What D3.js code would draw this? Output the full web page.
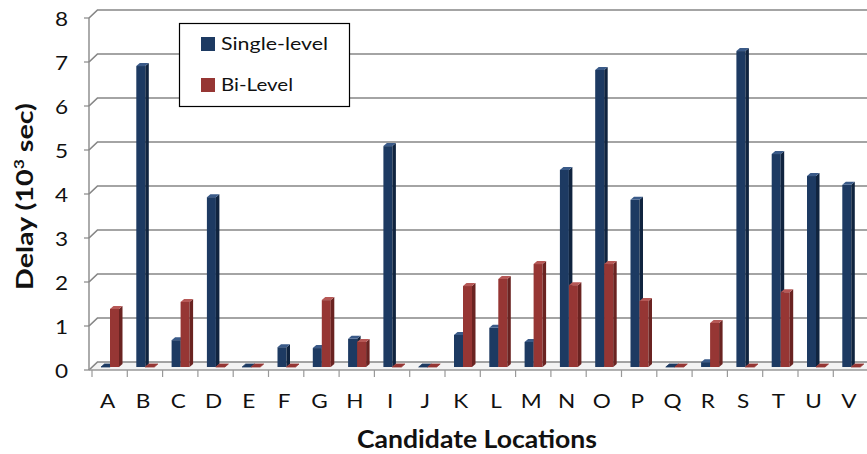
<!DOCTYPE html>
<html>
<head>
<meta charset="utf-8">
<script src="https://cdn.jsdelivr.net/npm/d3@7"></script>
<style>
  html, body { margin: 0; padding: 0; background: #fff; }
  svg { display: block; font-family: Lato, "Open Sans", "DejaVu Sans", sans-serif; }
</style>
</head>
<body>
<svg id="chart" width="867" height="454"></svg>
<script>
// Candidate locations and delay per location (in 10^3 sec)
const categories = ["A","B","C","D","E","F","G","H","I","J","K","L","M","N","O","P","Q","R","S","T","U","V"];
const singleLevel = [0, 6.84, 0.61, 3.86, 0, 0.45, 0.43, 0.64, 5.02, 0, 0.73, 0.89, 0.57, 4.48, 6.75, 3.8, 0, 0.11, 7.18, 4.84, 4.34, 4.14];
const biLevel     = [1.32, 0, 1.48, 0, 0, 0, 1.52, 0.57, 0, 0, 1.84, 2.0, 2.34, 1.86, 2.34, 1.5, 0, 1.0, 0, 1.70, 0, 0];
const yTicks = [0, 1, 2, 3, 4, 5, 6, 7, 8];
const seriesNames = ["Single-level", "Bi-Level"];

const svg = d3.select("#chart");

// Front plane scales
const x = d3.scaleBand().domain(categories).range([92, 92 + 35.3 * categories.length]);
const y = d3.scaleLinear().domain([0, 8]).range([370, 18]);

// Oblique offsets for the 3D look
const wallDx = 8.5, wallDy = -8;   // front plane -> back wall
const barDepthDy = -3;             // bars sit a little behind the front plane
const sideDx = 3.5, sideDy = -3;   // bar depth

const axisX = 89;
const textWide = 1.22;             // horizontal widening of the label glyphs

// Floor
svg.append("path")
  .attr("d", `M${axisX},${y(0)} L${axisX + wallDx},${y(0) + wallDy} L867,${y(0) + wallDy} L867,${y(0)} Z`)
  .attr("fill", "#f3f3f3");

// Back-wall gridlines with the short diagonal on the side wall
const grid = svg.append("g");
yTicks.forEach(v => {
  const yf = y(v), yb = y(v) + wallDy;
  grid.append("path")
    .attr("d", `M${axisX},${yf} L${axisX + wallDx},${yb} L867,${yb}`)
    .attr("fill", "none")
    .attr("stroke", "#868686")
    .attr("stroke-width", 1.7);
  grid.append("line")
    .attr("x1", axisX - 5).attr("x2", axisX)
    .attr("y1", yf).attr("y2", yf)
    .attr("stroke", "#888").attr("stroke-width", 1.2);
});

// Vertical axis line
svg.append("line")
  .attr("x1", axisX).attr("x2", axisX)
  .attr("y1", y(8)).attr("y2", y(0))
  .attr("stroke", "#888").attr("stroke-width", 1.4);

// Front edge of the floor and category ticks
svg.append("line")
  .attr("x1", axisX).attr("x2", 867)
  .attr("y1", y(0)).attr("y2", y(0))
  .attr("stroke", "#999").attr("stroke-width", 1.4);

const tickXs = categories.map(c => x(c));
svg.append("g").selectAll("line").data(tickXs).join("line")
  .attr("x1", d => d).attr("x2", d => d)
  .attr("y1", y(0)).attr("y2", y(0) + 7)
  .attr("stroke", "#999").attr("stroke-width", 1.2);

// Y tick labels
svg.append("g").selectAll("text").data(yTicks).join("text")
  .attr("transform", d => `translate(68,${y(d) + 1}) scale(${textWide},1)`)
  .attr("dy", "0.36em")
  .attr("text-anchor", "end")
  .attr("font-size", 18.5)
  .attr("fill", "#111")
  .text(d => d);

// Category labels
svg.append("g").selectAll("text").data(categories).join("text")
  .attr("transform", d => `translate(${x(d) + x.bandwidth() / 2 - 2},408) scale(${textWide},1)`)
  .attr("text-anchor", "middle")
  .attr("font-size", 18.5)
  .attr("fill", "#111")
  .text(d => d);

// Bars drawn as prisms: front face, side face and top face
const palettes = [
  { front: "#1d3a62", side: "#10243f", top: "#3a5a88" },
  { front: "#963634", side: "#6a2321", top: "#b65856" }
];
const barW = 9;
const barOffset = 9;

function drawBar(g, x0, v, pal) {
  const base = y(0) + barDepthDy;
  const top = y(v) + barDepthDy;
  const x1 = x0 + barW;
  if (v > 0) {
    g.append("rect")
      .attr("x", x0).attr("y", top)
      .attr("width", barW).attr("height", base - top)
      .attr("fill", pal.front);
    g.append("path")
      .attr("d", `M${x1},${top} L${x1 + sideDx},${top + sideDy} L${x1 + sideDx},${base + sideDy} L${x1},${base} Z`)
      .attr("fill", pal.side);
  }
  g.append("path")
    .attr("d", `M${x0},${top} L${x0 + sideDx},${top + sideDy} L${x1 + sideDx},${top + sideDy} L${x1},${top} Z`)
    .attr("fill", v > 0 ? pal.top : pal.front)
    .attr("stroke", v > 0 ? "none" : pal.front)
    .attr("stroke-width", 0.8);
}

const bars = svg.append("g");
categories.forEach((c, i) => {
  const bx = x(c) + barOffset;
  drawBar(bars, bx, singleLevel[i], palettes[0]);
  drawBar(bars, bx + barW, biLevel[i], palettes[1]);
});

// Legend
const legend = svg.append("g");
legend.append("rect")
  .attr("x", 179.5).attr("y", 23.5)
  .attr("width", 170).attr("height", 83)
  .attr("fill", "#fff")
  .attr("stroke", "#000").attr("stroke-width", 1.2);
const legendWidths = [107, 72];
seriesNames.forEach((name, i) => {
  const cy = 44 + i * 41;
  legend.append("rect")
    .attr("x", 201).attr("y", cy - 7)
    .attr("width", 14).attr("height", 14)
    .attr("fill", palettes[i].front);
  legend.append("text")
    .attr("x", 221).attr("y", cy)
    .attr("dy", "0.36em")
    .attr("font-size", 17)
    .attr("textLength", legendWidths[i])
    .attr("lengthAdjust", "spacingAndGlyphs")
    .attr("fill", "#111")
    .text(name);
});

// Axis titles
svg.append("text")
  .attr("x", 357).attr("y", 448)
  .attr("font-size", 25)
  .attr("font-weight", "bold")
  .attr("textLength", 240)
  .attr("lengthAdjust", "spacingAndGlyphs")
  .attr("fill", "#111")
  .text("Candidate Locations");

const yTitle = svg.append("text")
  .attr("transform", "translate(33,290) rotate(-90)")
  .attr("font-size", 23)
  .attr("font-weight", "bold")
  .attr("textLength", 187)
  .attr("lengthAdjust", "spacingAndGlyphs")
  .attr("fill", "#111");
yTitle.append("tspan").text("Delay (10");
yTitle.append("tspan").attr("font-size", 14).attr("dy", -9).text("3");
yTitle.append("tspan").attr("dy", 9).text(" sec)");
</script>
</body>
</html>
